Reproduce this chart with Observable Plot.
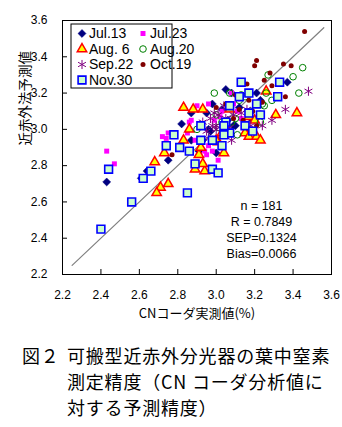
<!DOCTYPE html>
<html>
<head>
<meta charset="utf-8">
<script src="https://cdn.jsdelivr.net/npm/d3@7"></script>
<script src="https://cdn.jsdelivr.net/npm/@observablehq/plot@0.6"></script>
<style>
  body { margin: 0; background: #fff; width: 342px; }
  #chart { position: relative; width: 342px; }
  #cap { display: flex; padding-top: 12px; padding-left: 22px; font-family: "Noto Sans CJK JP", sans-serif; font-size: 18px; line-height: 26px; letter-spacing: 0.8px; color: #000; }
  #cap .fig { width: 45px; flex: none; }
</style>
</head>
<body>
<div id="chart"></div>
<div id="cap"><span class="fig">図２</span><span>可搬型近赤外分光器の葉中窒素<br>測定精度（CN コーダ分析値に<br>対する予測精度）</span></div>
<script>
// [CNコーダ実測値, 近赤外法予測値]
const jul13 = [[2.43,2.71],[2.61,2.73],[2.64,2.77],[2.65,2.77],[2.75,2.83],[2.82,3.03],[2.87,3.09],[2.95,3.09],[2.96,3.00],[3.05,3.22],[3.08,3.20],[2.98,3.14],[3.37,3.26],[3.21,3.20],[3.10,3.02],[3.00,2.87],[2.93,2.94],[2.97,2.99],[3.09,3.02],[3.06,3.05],[3.16,3.01],[3.18,3.06],[2.87,2.94],[2.91,2.88],[3.03,3.11],[3.23,3.16],[3.12,3.12]];
const jul23 = [[2.43,2.88],[2.47,2.81],[2.90,3.13],[2.96,3.14],[2.75,2.98],[2.86,3.04],[2.73,2.92],[2.74,2.95],[2.95,2.86],[2.89,2.94],[2.87,3.05],[2.72,2.96],[2.96,2.91],[2.98,2.88],[3.08,3.20],[3.03,3.10],[3.11,3.10],[2.94,2.88],[2.85,2.98],[2.99,3.05],[3.05,2.97],[2.92,3.02],[3.13,3.06],[3.01,2.83],[3.09,3.14],[3.02,3.07]];
const aug6 = [[2.83,3.12],[2.88,3.11],[2.93,3.11],[3.07,3.11],[2.86,3.00],[2.83,2.94],[2.91,2.86],[2.73,2.87],[2.68,2.82],[2.71,2.68],[2.75,2.70],[2.69,2.65],[2.89,2.78],[2.94,2.77],[2.93,2.81],[2.92,2.90],[3.04,2.87],[3.01,2.93],[3.31,3.08],[3.42,3.09],[3.17,3.07],[3.20,3.05],[3.15,2.98],[3.17,2.96],[3.21,2.96],[3.23,2.94],[3.03,2.98],[3.00,2.94],[3.26,3.21]];
const aug20 = [[3.45,3.34],[3.40,3.29],[3.43,3.20],[3.27,3.30],[3.25,3.13],[3.15,3.18],[2.99,3.20],[3.13,3.19],[3.26,3.20],[3.24,3.14],[3.23,3.04],[3.03,3.04],[3.00,3.08],[3.08,3.04],[3.04,2.99],[3.07,3.20],[3.12,3.16],[2.90,3.00],[3.01,3.01],[3.18,3.10],[3.11,2.97],[3.29,3.16],[3.10,3.06]];
const sep22 = [[3.48,3.21],[3.36,3.11],[3.29,3.05],[3.24,3.02],[3.09,3.08],[2.99,3.09],[3.00,3.02],[2.98,3.02],[3.00,3.00],[3.01,3.08],[2.96,2.95],[3.05,3.06],[3.13,3.09],[3.07,3.01],[2.95,2.99],[3.04,3.13],[3.18,3.02],[3.16,3.11],[2.97,3.06],[3.08,2.94],[3.05,3.00],[2.93,3.04]];
const oct19 = [[3.46,3.54],[3.21,3.38],[3.20,3.35],[3.35,3.36],[3.39,3.35],[3.28,3.31],[3.25,3.27],[3.16,3.25],[3.29,3.24],[3.36,3.18],[3.19,3.10],[3.14,3.05],[3.21,3.02],[2.77,2.86],[3.24,3.15],[3.12,3.11],[3.05,3.14],[3.23,3.09],[3.09,3.06],[3.17,3.16],[3.10,3.19],[3.00,3.12]];
const nov30 = [[2.44,2.78],[2.56,2.60],[2.40,2.45],[2.66,2.77],[2.62,2.73],[2.85,2.65],[2.78,2.97],[2.81,2.90],[2.74,2.91],[2.86,2.88],[2.92,3.02],[2.92,2.94],[2.98,2.94],[3.03,2.91],[2.98,2.78],[3.01,2.76],[2.89,2.81],[3.05,3.04],[3.07,2.98],[3.04,2.97],[3.13,3.26],[3.33,3.26],[3.12,3.18],[3.17,3.20],[3.32,3.18],[3.21,3.14],[3.17,3.09],[3.23,3.08],[3.07,3.13],[3.15,3.02],[3.19,2.99],[3.04,3.02]];

const seriesNames = ["Jul.13","Jul.23","Aug. 6","Aug.20","Sep.22","Oct.19","Nov.30"];
const seriesData = [jul13, jul23, aug6, aug20, sep22, oct19, nov30];
const axisTicks = [2.2, 2.4, 2.6, 2.8, 3.0, 3.2, 3.4, 3.6];
const oneToOne = [2.25, 3.56];
const statsText = ["n = 181", "R = 0.7849", "SEP=0.1324", "Bias=0.0066"];
const xLabel = "CNコーダ実測値(%)";
const yLabel = "近赤外法予測値";

const styles = [
  {symbol: "diamond2", r: 3.6, fill: "#000080", stroke: "#000080", strokeWidth: 0.5},
  {symbol: "square",   r: 2.8, fill: "#ff00ff", stroke: "none", strokeWidth: 0},
  {symbol: "triangle", r: 3.5, fill: "#ffff00", stroke: "#ff0000", strokeWidth: 1.5},
  {symbol: "circle",   r: 3.3, fill: "none", stroke: "#008000", strokeWidth: 1},
  {symbol: "asterisk", r: 4.3, fill: "none", stroke: "#800080", strokeWidth: 1},
  {symbol: "circle",   r: 2.5, fill: "#800000", stroke: "none", strokeWidth: 0},
  {symbol: "square",   r: 4.4, fill: "#ccffcc", stroke: "#0000ff", strokeWidth: 1.6}
];

const W = 342, H = 330, mT = 20, mR = 11, mB = 56, mL = 62;
const fw = W - mL - mR, fh = H - mT - mB;

const dotMarks = seriesData.map((d, i) => Plot.dot(d, {
  x: p => p[0], y: p => p[1],
  symbol: () => styles[i].symbol, r: styles[i].r,
  fill: styles[i].fill, stroke: styles[i].stroke, strokeWidth: styles[i].strokeWidth
}));

const svg = Plot.plot({
  width: W, height: H, marginTop: mT, marginRight: mR, marginBottom: mB, marginLeft: mL,
  style: {fontFamily: "'Liberation Sans', Arial, sans-serif", fontSize: "12px", color: "#000", background: "#fff"},
  x: {domain: [2.2, 3.6], ticks: axisTicks, tickFormat: d3.format(".1f"), tickSize: 0, tickPadding: 16, label: null},
  y: {domain: [2.2, 3.6], ticks: axisTicks, tickFormat: d3.format(".1f"), tickSize: 0, tickPadding: 15, label: null},
  symbol: {type: "identity"},
  marks: [
    Plot.line(oneToOne.map(v => [v, v]), {x: p => p[0], y: p => p[1], stroke: "#808080", strokeWidth: 1.2}),
    ...dotMarks,
    Plot.tickX(axisTicks, {x: d => d, stroke: "#000", insetTop: fh - 5}),
    Plot.tickY(axisTicks, {y: d => d, stroke: "#000", insetRight: fw - 5}),
    Plot.frame({stroke: "#000"}),
    Plot.text([statsText.join("\n")], {frameAnchor: "bottom-right", dx: -70, dy: -17, textAnchor: "middle", lineAnchor: "bottom", lineHeight: 1.27, fontSize: 12.5, fill: "#000"}),
    Plot.text([yLabel], {frameAnchor: "left", rotate: -90, dx: -37, dy: -2, fontSize: 13.5, fill: "#000", fontFamily: "'Noto Sans CJK JP', sans-serif"}),
    Plot.text([xLabel], {frameAnchor: "bottom", dy: 43, fontSize: 13, fill: "#000", fontFamily: "'Noto Sans CJK JP', sans-serif"})
  ]
});
document.getElementById("chart").appendChild(svg);

// legend drawn into the plot svg
const symbolTypes = {diamond2: d3.symbolDiamond2, square: d3.symbolSquare, triangle: d3.symbolTriangle, circle: d3.symbolCircle, asterisk: d3.symbolAsterisk};
const lg = d3.select(svg).append("g").attr("transform", "translate(71,24)");
lg.append("rect").attr("width", 101).attr("height", 64).attr("fill", "#fff").attr("stroke", "#000");
seriesNames.forEach((name, i) => {
  const col = i === 6 ? 0 : i % 2, row = Math.floor(i / 2);
  const cx = col === 0 ? 11 : 72, cy = 9.5 + row * 15.5;
  const s = styles[i];
  lg.append("path")
    .attr("transform", `translate(${cx},${cy})`)
    .attr("d", d3.symbol(symbolTypes[s.symbol], Math.PI * s.r * s.r)())
    .attr("fill", s.fill).attr("stroke", s.stroke).attr("stroke-width", s.strokeWidth);
  lg.append("text").attr("x", cx + 7).attr("y", cy).attr("dy", "0.35em")
    .attr("text-anchor", "start")
    .attr("font-size", 14).attr("font-family", "'Liberation Sans', Arial, sans-serif").attr("fill", "#000")
    .text(name);
});
</script>
</body>
</html>
